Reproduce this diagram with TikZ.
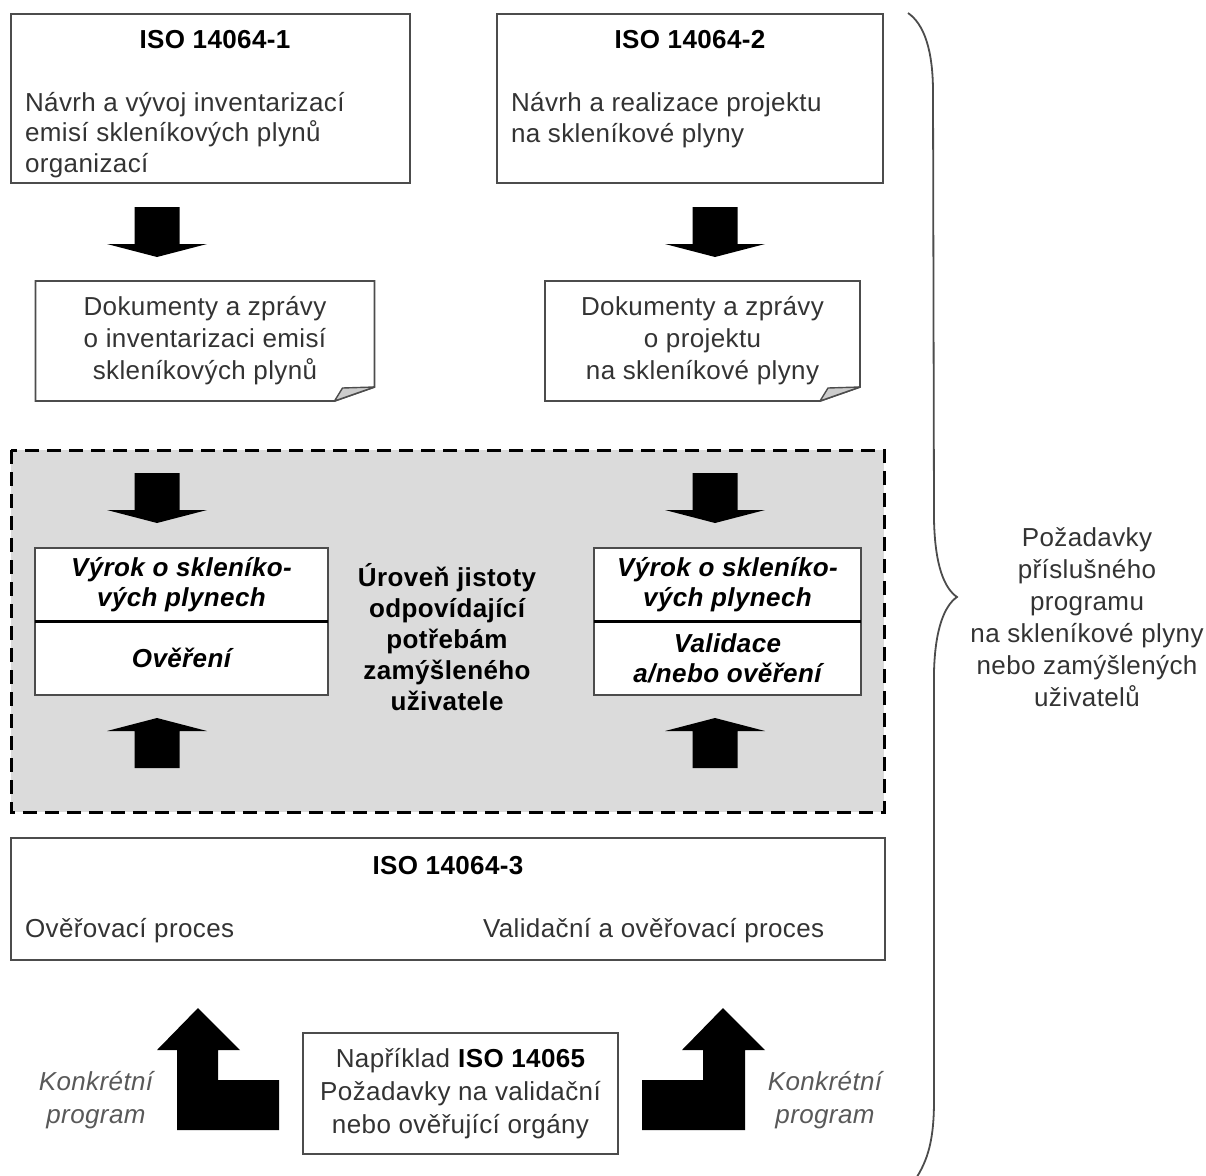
\documentclass[tikz,border=0pt]{standalone}
\usepackage{fontspec}
\setmainfont{Liberation Sans}[LetterSpace=1.5]
\usetikzlibrary{positioning}

\definecolor{boxline}{gray}{0.30}
\definecolor{txtgray}{gray}{0.20}
\definecolor{panelgray}{gray}{0.86}
\definecolor{foldgray}{gray}{0.80}

\newcommand{\blkdown}[1]{\fill[blk] (#1) ++(-22.5,0) -- ++(45,0) -- ++(0,37) -- ++(27.5,0) -- ++(-50,13) -- ++(-50,-13) -- ++(27.5,0) -- cycle;}
\newcommand{\blkup}[1]{\fill[blk] (#1) -- ++(50,13) -- ++(-27.5,0) -- ++(0,37) -- ++(-45,0) -- ++(0,-37) -- ++(-27.5,0) -- cycle;}

\begin{document}
\begin{tikzpicture}[x=1pt,y=-1pt]
    \tikzstyle{every node}=[inner sep=0,outer sep=0,text=txtgray,font=\fontsize{26}{31}\selectfont]
    \tikzstyle{box}=[draw=boxline,line width=1.8pt,fill=white,rectangle,anchor=north west]
    \tikzstyle{title}=[font=\fontsize{26}{31}\selectfont\bfseries,text=black]
    \tikzstyle{body}=[align=left,anchor=west,font=\fontsize{26}{30.5}\selectfont]
    \tikzstyle{doc}=[align=center,minimum width=339pt,minimum height=120pt,font=\fontsize{26}{32}\selectfont]
    \tikzstyle{docline}=[draw=boxline,line width=1.8pt]
    \tikzstyle{fold}=[draw=boxline,fill=foldgray,line width=1.4pt,line join=round]
    \tikzstyle{stbox}=[box,anchor=north,align=center,text=black,font=\fontsize{26}{30}\selectfont\bfseries\itshape]
    \tikzstyle{divider}=[draw=black,line width=3pt]
    \tikzstyle{dashpanel}=[draw=black,fill=panelgray,line width=3pt,dash pattern=on 14pt off 8pt]
    \tikzstyle{blk}=[fill=black]
    \tikzstyle{brace}=[draw=boxline,line width=1.8pt]
    \tikzstyle{side}=[font=\fontsize{26}{33}\selectfont\itshape,align=center,text=black!65]

    \useasboundingbox (0,0) rectangle (1206,1175);

    \draw[dashpanel] (11,450) rectangle (884,812);

    \node[box,minimum width=399pt,minimum height=169pt] (iso1) at (11,14) {};
    \node[box,minimum width=386pt,minimum height=169pt] (iso2) at (497,14) {};
    \node[title] (iso1t) at (215,40) {ISO 14064-1};
    \node[title,below=16pt of iso2.north] (iso2t) {ISO 14064-2};
    \node[body] (iso1b) at (25,135) {Návrh a vývoj inventarizací\\emisí skleníkových plynů\\organizací};
    \node[body] (iso2b) at (511,120) {Návrh a realizace projektu\\na skleníkové plyny};

    \coordinate (a1) at (157,207);
    \coordinate (a2) at (715,207);
    \blkdown{a1}
    \blkdown{a2}

    \node[doc] (doc1) at (205,341) {Dokumenty a zprávy\\o inventarizaci emisí\\skleníkových plynů};
    \node[doc,minimum width=315pt] (doc2) at (702.5,341) {Dokumenty a zprávy\\o projektu\\na skleníkové plyny};
    \draw[docline] (doc1.north west) -- (doc1.north east) -- ([yshift=14pt]doc1.south east) -- ([xshift=-40pt]doc1.south east) -- (doc1.south west) -- cycle;
    \draw[docline] (doc2.north west) -- (doc2.north east) -- ([yshift=14pt]doc2.south east) -- ([xshift=-40pt]doc2.south east) -- (doc2.south west) -- cycle;
    \filldraw[fold] ([xshift=-40pt]doc1.south east) -- ([xshift=-32pt,yshift=13pt]doc1.south east) -- ([yshift=14pt]doc1.south east) -- cycle;
    \filldraw[fold] ([xshift=-40pt]doc2.south east) -- ([xshift=-32pt,yshift=13pt]doc2.south east) -- ([yshift=14pt]doc2.south east) -- cycle;

    \coordinate (a3) at (157,473);
    \coordinate (a4) at (715,473);
    \blkdown{a3}
    \blkdown{a4}

    \node[stbox,minimum width=293pt,minimum height=73pt] (st1a) at (181.5,548) {Výrok o skleníko-\\vých plynech};
    \node[stbox,minimum width=293pt,minimum height=74pt,below=0pt of st1a] (st1b) {Ověření};
    \node[stbox,minimum width=267pt,minimum height=73pt] (st2a) at (727.5,548) {Výrok o skleníko-\\vých plynech};
    \node[stbox,minimum width=267pt,minimum height=74pt,below=0pt of st2a] (st2b) {Validace\\a/nebo ověření};
    \draw[divider] (st1a.south west) -- (st1a.south east);
    \draw[divider] (st2a.south west) -- (st2a.south east);

    \node[title,align=center] (level) at (447,637) {Úroveň jistoty\\odpovídající\\potřebám\\zamýšleného\\uživatele};

    \coordinate (u1) at (157,718);
    \coordinate (u2) at (715,718);
    \blkup{u1}
    \blkup{u2}

    \node[box,minimum width=874pt,minimum height=122pt] (iso3) at (11,838) {};
    \node[title,below=18pt of iso3.north] (iso3t) {ISO 14064-3};
    \node[anchor=west] (verif) at (25,931) {Ověřovací proces};
    \node[anchor=west] (valid) at (483,931) {Validační a ověřovací proces};

    \node[box,anchor=center,minimum width=315pt,minimum height=121pt,align=center,font=\fontsize{26}{33}\selectfont] (bodies) at (460.5,1093.5) {Například \textbf{\color{black}ISO 14065}\\Požadavky na validační\\nebo ověřující orgány};

    \coordinate (la) at (198,1008);
    \coordinate (ra) at (723,1008);
    \fill[blk] (la) -- ++(42,42) -- ++(-22,0) -- ++(0,30) -- ++(61,0) -- ++(0,50) -- ++(-102,0) -- ++(0,-80) -- ++(-20,0) -- cycle;
    \fill[blk] (ra) -- ++(42,42) -- ++(-20,0) -- ++(0,80) -- ++(-103,0) -- ++(0,-50) -- ++(61,0) -- ++(0,-30) -- ++(-21,0) -- cycle;
    \node[side] (progl) at (96,1100) {Konkrétní\\program};
    \node[side] (progr) at (825,1100) {Konkrétní\\program};

    \draw[brace] (908,13) .. controls (924,24) and (933,50) .. (933,92) -- (934,520)
        .. controls (935,565) and (944,588) .. (957,597)
        .. controls (944,606) and (935,630) .. (934,672) -- (934,1100)
        .. controls (934,1140) and (928,1160) .. (915,1180);
    \node[align=center,font=\fontsize{26}{32}\selectfont] (req) at (1087,617) {Požadavky\\příslušného\\programu\\na skleníkové plyny\\nebo zamýšlených\\uživatelů};
\end{tikzpicture}
\end{document}
